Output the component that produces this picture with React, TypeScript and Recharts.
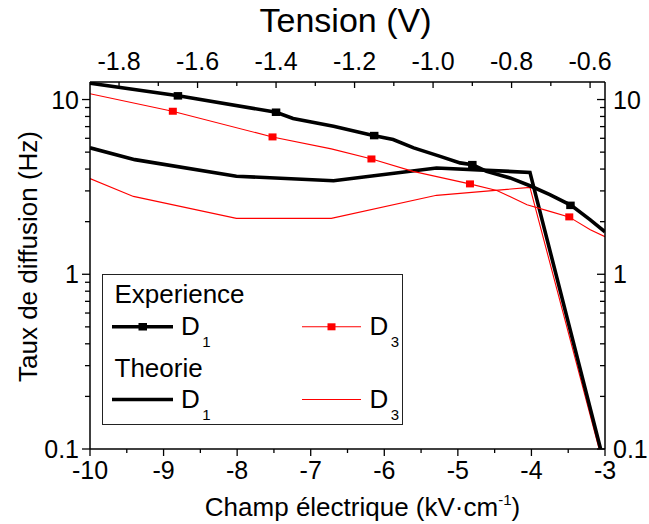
import { LineChart, Line, XAxis, YAxis, Legend } from "recharts";

const FONT = '"Liberation Sans", Arial, Helvetica, sans-serif';

// Experience D1: thick black line
const expD1Field = [-10, -8.8, -7.47, -7.24, -6.69, -6.15, -5.88, -5.6, -5.24, -4.97, -4.8, -4.61, -4.29, -4.02, -3.75, -3.46, -3.2, -3];
const expD1Rate = [12.4, 10.5, 8.46, 7.8, 7.03, 6.22, 5.9, 5.29, 4.73, 4.34, 4.24, 3.88, 3.56, 3.21, 2.86, 2.48, 2.05, 1.75];
// measured points (squares), given in tension
const expD1Tension = [-1.65, -1.4, -1.15, -0.9, -0.65];
const expD1Measured = [10.5, 8.46, 6.22, 4.24, 2.48];

// Experience D3: thin red line
const expD3Field = [-10, -8.88, -7.52, -6.72, -6.17, -5.61, -4.84, -4.47, -4.06, -3.75, -3.49, -3.2, -3];
const expD3Rate = [10.8, 8.57, 6.11, 5.22, 4.57, 3.88, 3.29, 3.02, 2.5, 2.29, 2.13, 1.8, 1.64];
const expD3Tension = [-1.663, -1.409, -1.157, -0.906, -0.653];
const expD3Measured = [8.57, 6.11, 4.57, 3.29, 2.13];

// Theorie
const thD1Field = [-10, -9.39, -8.01, -6.69, -5.29, -4.02, -3.06];
const thD1Rate = [5.29, 4.53, 3.64, 3.43, 4.06, 3.83, 0.1];
const thD3Field = [-10, -9.41, -8.01, -6.72, -5.29, -4.02, -3.08];
const thD3Rate = [3.53, 2.79, 2.09, 2.09, 2.83, 3.14, 0.1];

// axes
const fieldDomain = [-10, -3];
const fieldTicks = [-10, -9.5, -9, -8.5, -8, -7.5, -7, -6.5, -6, -5.5, -5, -4.5, -4, -3.5, -3];
const tensionDomain = [-1.874, -0.562];
const tensionTicks = [-1.8, -1.7, -1.6, -1.5, -1.4, -1.3, -1.2, -1.1, -1.0, -0.9, -0.8, -0.7, -0.6];
const rateDomain = [0.1, 12.6];
const rateTicks = [0.1, 0.2, 0.3, 0.4, 0.5, 0.6, 0.7, 0.8, 0.9, 1, 2, 3, 4, 5, 6, 7, 8, 9, 10];
const rateMajor = [0.1, 1, 10];

const fieldRows = (xs: number[], ys: number[]) => xs.map((field, i) => ({ field, rate: ys[i] }));
const tensionRows = (xs: number[], ys: number[]) => xs.map((tension, i) => ({ tension, rate: ys[i] }));

const expD1 = fieldRows(expD1Field, expD1Rate);
const expD3 = fieldRows(expD3Field, expD3Rate);
const thD1 = fieldRows(thD1Field, thD1Rate);
const thD3 = fieldRows(thD3Field, thD3Rate);
const expD1Points = tensionRows(expD1Tension, expD1Measured);
const expD3Points = tensionRows(expD3Tension, expD3Measured);

const AXIS = { stroke: "#000", strokeWidth: 1.5 };

const T = ({ x, y, anchor = "start", size = 25, rotate = 0, children }: any) => (
  <text
    transform={`translate(${x},${y})${rotate ? ` rotate(${rotate})` : ""}`}
    textAnchor={anchor}
    fontFamily={FONT}
    fontSize={size}
    fill="#000"
  >
    {children}
  </text>
);

const BottomTick = ({ x, y, payload }: any) => {
  const major = Number.isInteger(payload.value);
  return (
    <g>
      <line x1={x} x2={x} y1={y} y2={y + (major ? 7 : 4)} stroke="#000" strokeWidth={1.3} />
      {major && (
        <T x={x} y={y + 30} anchor="middle">
          {payload.value}
        </T>
      )}
    </g>
  );
};

const TopTick = ({ x, y, payload }: any) => {
  const major = Math.round(payload.value * 10) % 2 === 0;
  return (
    <g>
      <line x1={x} x2={x} y1={y} y2={y + (major ? 6 : 4)} stroke="#000" strokeWidth={1.3} />
      {major && (
        <T x={x} y={y - 12} anchor="middle">
          {payload.value.toFixed(1)}
        </T>
      )}
    </g>
  );
};

const LeftTick = ({ x, y, payload }: any) => {
  const major = rateMajor.includes(payload.value);
  return (
    <g>
      <line x1={x} x2={x - (major ? 8 : 5)} y1={y} y2={y} stroke="#000" strokeWidth={1.3} />
      {major && (
        <T x={x - 11} y={y + 9} anchor="end">
          {String(payload.value)}
        </T>
      )}
    </g>
  );
};

const RightTick = ({ x, y, payload }: any) => {
  const major = rateMajor.includes(payload.value);
  return (
    <g>
      <line x1={x} x2={x - (major ? 8 : 5)} y1={y} y2={y} stroke="#000" strokeWidth={1.3} />
      {major && (
        <T x={x + 8} y={y + 9}>
          {String(payload.value)}
        </T>
      )}
    </g>
  );
};

const squareDot = (w: number, h: number, color: string) => (props: any) => {
  const { cx, cy, index } = props;
  return <rect key={index} x={cx - w / 2} y={cy - h / 2} width={w} height={h} fill={color} />;
};

const Sub = ({ x, y, n }: any) => (
  <T x={x} y={y} size={26}>
    D<tspan dx={2.5} dy={11.5} fontSize={15}>{n}</tspan>
  </T>
);

const LegendBox = () => (
  <svg width={302} height={152} style={{ display: "block" }}>
    <rect x={0.5} y={0.5} width={300} height={150} fill="#fff" stroke="#222" strokeWidth={1} />
    <T x={12.5} y={29} size={26}>Experience</T>
    <line x1={10} x2={71} y1={52.8} y2={52.8} stroke="#000" strokeWidth={3.5} />
    <rect x={36.5} y={49} width={8.5} height={7.5} fill="#000" />
    <Sub x={79} y={61} n="1" />
    <line x1={200} x2={259} y1={52.8} y2={52.8} stroke="#ff0000" strokeWidth={1.1} />
    <rect x={225.5} y={49.3} width={8} height={7} fill="#ff0000" />
    <Sub x={267.5} y={61} n="3" />
    <T x={12.5} y={103} size={26}>Theorie</T>
    <line x1={10} x2={71} y1={125.5} y2={125.5} stroke="#000" strokeWidth={3.5} />
    <Sub x={79} y={134} n="1" />
    <line x1={200} x2={259} y1={125.5} y2={125.5} stroke="#ff0000" strokeWidth={1.1} />
    <Sub x={267.5} y={134} n="3" />
  </svg>
);

export default function App() {
  return (
    <div style={{ position: "absolute", left: 0, top: 0, width: 649, height: 524, background: "#fff" }}>
      <LineChart width={649} height={524} margin={{ top: 0, right: 0, bottom: 0, left: 0 }}>
        <XAxis
          xAxisId="field"
          dataKey="field"
          type="number"
          domain={fieldDomain}
          ticks={fieldTicks}
          interval={0}
          allowDataOverflow
          height={75}
          axisLine={AXIS}
          tickLine={false}
          tickSize={0}
          tickMargin={0}
          tick={<BottomTick />}
          label={{
            content: ({ viewBox }: any) => (
              <T x={viewBox.x + viewBox.width / 2 + 15} y={viewBox.y + 67} anchor="middle" size={26}>
                Champ électrique (kV·cm
                <tspan dy={-11} fontSize={15}>-1</tspan>
                <tspan dy={11}>)</tspan>
              </T>
            ),
          }}
        />
        <XAxis
          xAxisId="tension"
          dataKey="tension"
          orientation="top"
          type="number"
          domain={tensionDomain}
          ticks={tensionTicks}
          interval={0}
          allowDataOverflow
          height={82}
          axisLine={AXIS}
          tickLine={false}
          tickSize={0}
          tickMargin={0}
          tick={<TopTick />}
          label={{
            content: ({ viewBox }: any) => (
              <T x={viewBox.x + viewBox.width / 2 - 2} y={32} anchor="middle" size={34}>
                Tension (V)
              </T>
            ),
          }}
        />
        <YAxis
          yAxisId="rate"
          type="number"
          scale="log"
          domain={rateDomain}
          ticks={rateTicks}
          interval={0}
          allowDataOverflow
          width={90}
          axisLine={AXIS}
          tickLine={false}
          tickSize={0}
          tickMargin={0}
          tick={<LeftTick />}
          label={{
            content: ({ viewBox }: any) => (
              <T x={37} y={viewBox.y + viewBox.height / 2 - 9} anchor="middle" size={26} rotate={-90}>
                Taux de diffusion (Hz)
              </T>
            ),
          }}
        />
        <YAxis
          yAxisId="rateRight"
          orientation="right"
          type="number"
          scale="log"
          domain={rateDomain}
          ticks={rateTicks}
          interval={0}
          allowDataOverflow
          width={44}
          axisLine={AXIS}
          tickLine={false}
          tickSize={0}
          tickMargin={0}
          tick={<RightTick />}
        />
        <Legend
          layout="horizontal"
          verticalAlign="middle"
          align="center"
          wrapperStyle={{ position: "absolute", left: 102, top: 274, width: 302, height: 152 }}
          content={() => <LegendBox />}
        />
        <Line xAxisId="field" yAxisId="rate" data={thD3} dataKey="rate" stroke="#ff0000" strokeWidth={1.1} dot={false} isAnimationActive={false} />
        <Line xAxisId="field" yAxisId="rate" data={thD1} dataKey="rate" stroke="#000" strokeWidth={3.6} dot={false} isAnimationActive={false} />
        <Line xAxisId="field" yAxisId="rate" data={expD3} dataKey="rate" stroke="#ff0000" strokeWidth={1.1} dot={false} isAnimationActive={false} />
        <Line xAxisId="field" yAxisId="rate" data={expD1} dataKey="rate" stroke="#000" strokeWidth={3.6} dot={false} isAnimationActive={false} />
        <Line
          xAxisId="tension"
          yAxisId="rate"
          data={expD3Points}
          dataKey="rate"
          stroke="none"
          dot={squareDot(8, 7, "#ff0000")}
          legendType="none"
          isAnimationActive={false}
        />
        <Line
          xAxisId="tension"
          yAxisId="rate"
          data={expD1Points}
          dataKey="rate"
          stroke="none"
          dot={squareDot(8.5, 7.5, "#000")}
          legendType="none"
          isAnimationActive={false}
        />
      </LineChart>
    </div>
  );
}
